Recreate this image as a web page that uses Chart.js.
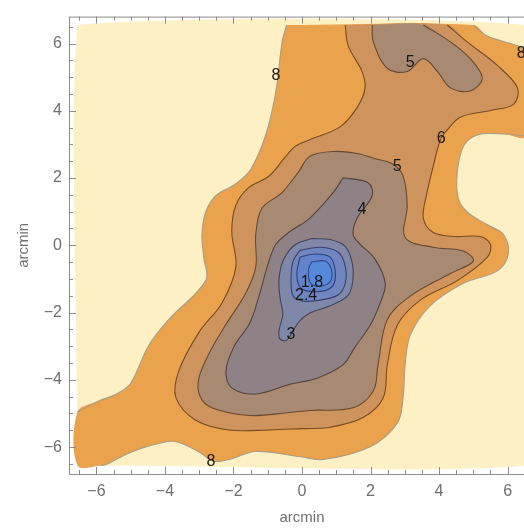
<!DOCTYPE html>
<html>
<head>
<meta charset="utf-8">
<script src="https://cdn.jsdelivr.net/npm/chart.js@4/dist/chart.umd.min.js"></script>
<style>
  html, body { margin: 0; padding: 0; overflow: hidden; background: #fff; }
  #wrap { width: 545px; height: 528px; }
</style>
</head>
<body>
<div id="wrap"><canvas id="chart" width="545" height="528"></canvas></div>
<script>
// contour polygons in arcmin (outer level first)
const fieldBox = [[-6.55,-6.55],[6.55,-6.55],[6.55,6.55],[-6.55,6.55],[-6.55,-6.55]];

const contour8 = [[-0.45,6.55],[5.00,6.55],[5.41,6.22],[6.29,5.93],[6.55,5.80],[6.55,3.25],
  [5.88,3.31],[5.12,3.28],[4.71,2.94],[4.53,2.15],[4.56,1.40],[4.82,0.99],[5.41,0.61],[5.88,0.32],
  [6.02,-0.26],[5.70,-0.76],[4.71,-1.13],[3.74,-1.80],[3.16,-2.67],[3.01,-3.55],[2.95,-4.53],
  [2.78,-5.29],[1.99,-5.99],[0.61,-6.37],[-0.09,-6.28],[-1.35,-6.13],[-2.13,-6.37],[-2.60,-6.42],
  [-2.98,-6.16],[-3.57,-5.87],[-3.95,-5.84],[-4.94,-6.13],[-5.70,-6.51],[-5.85,-6.55],[-6.55,-6.55],
  [-6.55,-4.95],[-5.91,-4.62],[-5.41,-4.42],[-5.00,-4.10],[-4.47,-2.97],[-3.89,-2.21],[-2.81,-1.05],
  [-2.87,-0.35],[-2.92,0.32],[-2.81,0.99],[-2.51,1.48],[-1.93,1.83],[-1.49,2.27],[-1.05,3.31],
  [-0.76,4.59],[-0.58,6.05],[-0.45,6.55]];

const contour6 = [[1.26,6.55],[1.35,5.93],[1.75,5.17],[1.84,4.68],[1.61,4.10],[1.11,3.52],[0.23,3.14],
  [-0.20,2.94],[-0.47,2.65],[-0.96,2.06],[-1.55,1.72],[-1.93,1.19],[-2.05,0.41],[-1.93,-0.64],
  [-2.34,-1.72],[-3.01,-2.59],[-3.60,-3.75],[-3.68,-4.53],[-3.10,-5.20],[-2.13,-5.49],[-0.96,-5.49],
  [0.00,-5.45],[0.82,-5.41],[1.78,-5.12],[2.37,-4.53],[2.49,-3.55],[2.78,-2.38],[3.45,-1.63],
  [4.53,-1.05],[5.41,-0.35],[5.50,0.03],[5.20,0.26],[4.47,0.26],[3.83,0.38],[3.54,0.81],[3.65,1.57],
  [3.83,2.35],[4.04,3.14],[4.24,3.43],[4.62,3.81],[5.50,4.01],[6.17,4.19],[6.29,4.68],[5.70,5.35],
  [4.82,6.05],[4.24,6.55],[1.26,6.55]];

const contour5Top = [[2.05,6.55],[2.08,6.05],[2.49,5.26],[3.07,5.17],[3.54,5.55],[3.95,5.17],
  [4.33,4.68],[4.91,4.59],[5.26,4.97],[4.91,5.55],[4.33,6.05],[3.54,6.55],[2.05,6.55]];

const contour5 = [[-0.09,2.20],[0.23,2.65],[0.91,2.79],[1.61,2.73],[2.19,2.56],[2.66,2.41],[2.95,2.06],
  [3.07,1.19],[3.01,0.23],[3.83,-0.06],[4.71,-0.17],[5.00,-0.47],[4.33,-0.84],[3.16,-1.51],
  [2.49,-2.21],[2.22,-3.55],[2.08,-4.33],[1.49,-4.83],[0.23,-4.91],[-0.35,-4.97],[-1.55,-5.06],
  [-2.63,-4.83],[-2.98,-4.48],[-3.01,-3.95],[-2.69,-3.17],[-2.22,-2.35],[-1.64,-1.42],[-1.35,-0.64],
  [-1.35,0.32],[-1.17,1.10],[-0.58,1.57],[-0.09,2.20]];

const contour4 = [[1.20,2.01],[1.93,1.86],[2.05,1.48],[1.61,0.81],[1.49,0.32],[1.70,0.03],[2.13,-0.41],
  [2.43,-1.13],[2.28,-1.72],[1.99,-2.38],[1.55,-3.02],[1.20,-3.55],[0.44,-3.95],[-0.35,-4.13],
  [-1.35,-4.42],[-2.05,-4.24],[-2.22,-3.75],[-1.99,-3.02],[-1.52,-2.30],[-1.23,-1.42],[-0.99,-0.55],
  [-0.76,0.03],[-0.35,0.41],[0.23,0.81],[0.91,1.57],[1.20,2.01]];

const contour3 = [[0.29,0.20],[0.82,0.17],[1.26,-0.03],[1.46,-0.49],[1.49,-0.99],[1.35,-1.48],
  [0.82,-1.80],[0.23,-2.01],[-0.06,-2.24],[-0.26,-2.53],[-0.44,-2.82],[-0.64,-2.79],[-0.67,-2.53],
  [-0.56,-2.06],[-0.64,-1.57],[-0.67,-0.99],[-0.53,-0.41],[-0.18,0.03],[0.29,0.20]];

const contour24 = [[-0.06,-0.15],[0.53,-0.06],[1.05,-0.20],[1.26,-0.61],[1.26,-1.13],[1.05,-1.48],
  [0.53,-1.63],[0.03,-1.66],[-0.26,-1.51],[-0.32,-0.99],[-0.26,-0.47],[-0.06,-0.15]];

const contour18 = [[-0.06,-0.35],[0.38,-0.26],[0.82,-0.35],[0.96,-0.70],[0.94,-1.13],[0.70,-1.34],
  [0.23,-1.37],[-0.06,-1.25],[-0.15,-0.84],[-0.06,-0.35]];

const contour12 = [[0.29,-0.49],[0.67,-0.47],[0.85,-0.70],[0.85,-1.02],[0.67,-1.19],[0.32,-1.19],
  [0.20,-0.99],[0.20,-0.67],[0.29,-0.49]];

// contour labels
const labelText = ['8', '5', '8', '6', '5', '4', '1.8', '2.4', '3', '8'];
const labelX = [-0.76, 3.16, 6.40, 4.06, 2.78, 1.75, 0.29, 0.12, -0.32, -2.66];
const labelY = [5.06, 5.44, 5.70, 3.17, 2.35, 1.05, -1.10, -1.51, -2.65, -6.42];

const tickValues = [-6, -4, -2, 0, 2, 4, 6];

const regions = [
  { pts: fieldBox,    fill: '#fdf0c4', line: null },
  { pts: contour8,    fill: '#eba24c', line: 'rgba(165,155,135,0.95)' },
  { pts: contour6,    fill: '#cf945e', line: 'rgba(100,62,25,0.85)' },
  { pts: contour5Top, fill: '#a88a72', line: 'rgba(90,62,35,0.85)' },
  { pts: contour5,    fill: '#a88a72', line: 'rgba(90,62,35,0.85)' },
  { pts: contour4,    fill: '#8f8287', line: 'rgba(70,55,50,0.85)' },
  { pts: contour3,    fill: '#8088aa', line: 'rgba(55,55,80,0.85)' },
  { pts: contour24,   fill: '#7186be', line: 'rgba(45,52,95,0.85)' },
  { pts: contour18,   fill: '#6284cd', line: 'rgba(40,52,105,0.85)' },
  { pts: contour12,   fill: '#5589dc', line: 'rgba(40,55,115,0.8)' }
];

const toXY = pts => pts.map(p => ({ x: p[0], y: p[1] }));

// split a closed contour into the runs that are not on the edge of the field
function innerRuns(pts) {
  const runs = [];
  let cur = [];
  for (let i = 0; i < pts.length - 1; i++) {
    const a = pts[i], b = pts[i + 1];
    const edge = (Math.abs(a[0]) >= 6.5 && a[0] === b[0]) || (Math.abs(a[1]) >= 6.5 && a[1] === b[1]);
    if (edge) {
      if (cur.length > 1) runs.push(cur);
      cur = [];
    } else {
      if (!cur.length) cur.push(a);
      cur.push(b);
    }
  }
  if (cur.length > 1) runs.push(cur);
  return runs;
}

const datasets = [];
regions.forEach((r, i) => {
  datasets.push({
    data: toXY(r.pts),
    showLine: true,
    fill: 'shape',
    backgroundColor: r.fill,
    borderWidth: 0,
    tension: 0.35,
    pointRadius: 0,
    order: 100 - i
  });
});
regions.forEach(r => {
  if (!r.line) return;
  innerRuns(r.pts).forEach(run => {
    datasets.push({
      data: toXY(run),
      showLine: true,
      fill: false,
      borderColor: r.line,
      borderWidth: 1.1,
      tension: 0.35,
      pointRadius: 0,
      order: 0
    });
  });
});

const minus = v => (v < 0 ? '\u2212' + Math.abs(v) : String(v));

// frame with inward ticks, like the original
const framePlugin = {
  id: 'frame',
  afterDraw(chart) {
    const { ctx, chartArea: a, scales: { x, y } } = chart;
    ctx.save();
    ctx.strokeStyle = '#8c8c8c';
    ctx.lineWidth = 1;
    ctx.strokeRect(a.left + 0.5, a.top + 0.5, a.right - a.left, a.bottom - a.top);
    ctx.beginPath();
    for (let v = -6.5; v <= 6.5; v += 0.5) {
      const len = v % 2 === 0 ? 7 : 4;
      const px = Math.round(x.getPixelForValue(v)) + 0.5;
      const py = Math.round(y.getPixelForValue(v)) + 0.5;
      ctx.moveTo(px, a.bottom); ctx.lineTo(px, a.bottom - len);
      ctx.moveTo(px, a.top); ctx.lineTo(px, a.top + len);
      ctx.moveTo(a.left, py); ctx.lineTo(a.left + len, py);
      ctx.moveTo(a.right, py); ctx.lineTo(a.right - len, py);
    }
    ctx.stroke();
    ctx.restore();
  }
};

const labelPlugin = {
  id: 'contourLabels',
  afterDatasetsDraw(chart) {
    const { ctx, scales: { x, y } } = chart;
    ctx.save();
    ctx.font = '16px "Liberation Sans", Arial, sans-serif';
    ctx.fillStyle = '#1a1612';
    ctx.textAlign = 'center';
    ctx.textBaseline = 'middle';
    labelText.forEach((t, i) => {
      ctx.fillText(t, x.getPixelForValue(labelX[i]), y.getPixelForValue(labelY[i]));
    });
    ctx.restore();
  }
};

const axisFont = { family: '"Liberation Sans", Arial, sans-serif', size: 16 };
const titleFont = { family: '"Liberation Sans", Arial, sans-serif', size: 15 };

new Chart(document.getElementById('chart'), {
  type: 'scatter',
  data: { datasets },
  plugins: [framePlugin, labelPlugin],
  options: {
    responsive: false,
    animation: false,
    layout: { padding: { top: 8, right: 10, left: 0, bottom: 0 } },
    plugins: { legend: { display: false }, tooltip: { enabled: false } },
    scales: {
      x: {
        type: 'linear', min: -6.8, max: 6.8,
        grid: { display: false, drawTicks: false },
        border: { display: false },
        afterFit: s => { s.height = 54; },
        afterBuildTicks: s => { s.ticks = tickValues.map(v => ({ value: v })); },
        ticks: { padding: 8, color: '#6e6e6e', font: axisFont, callback: v => minus(v) },
        title: { display: true, text: 'arcmin', color: '#6e6e6e', font: titleFont, padding: { top: 0, bottom: 1 } }
      },
      y: {
        type: 'linear', min: -6.8, max: 6.8,
        grid: { display: false, drawTicks: false },
        border: { display: false },
        afterFit: s => { s.width = 69; },
        afterBuildTicks: s => { s.ticks = tickValues.map(v => ({ value: v })); },
        ticks: { padding: 7, color: '#6e6e6e', font: axisFont, callback: v => minus(v) },
        title: { display: true, text: 'arcmin', color: '#6e6e6e', font: titleFont, padding: { top: 15, bottom: 0 } }
      }
    }
  }
});
</script>
</body>
</html>
